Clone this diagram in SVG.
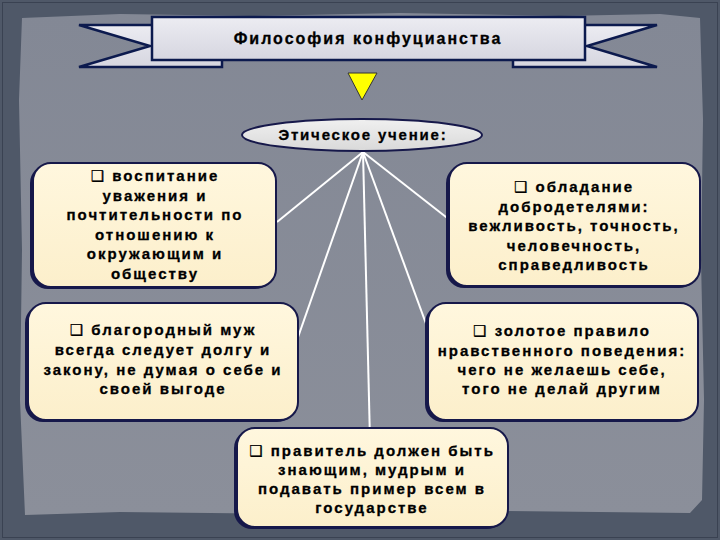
<svg xmlns="http://www.w3.org/2000/svg" width="720" height="540" viewBox="0 0 720 540">
<defs>
<linearGradient id="bg" x1="0" y1="0" x2="0" y2="1">
<stop offset="0" stop-color="#838895"/>
<stop offset="1" stop-color="#8b8f9a"/>
</linearGradient>
<linearGradient id="box" x1="0" y1="0" x2="0" y2="1">
<stop offset="0" stop-color="#fff7de"/>
<stop offset="1" stop-color="#fcefcb"/>
</linearGradient>
<linearGradient id="rib" x1="0" y1="0" x2="0" y2="1">
<stop offset="0" stop-color="#ececf2"/>
<stop offset="1" stop-color="#d6d6e0"/>
</linearGradient>
<linearGradient id="ell" x1="0" y1="0" x2="0" y2="1">
<stop offset="0" stop-color="#f0f0f0"/>
<stop offset="1" stop-color="#d9d9d9"/>
</linearGradient>
<style>
.box{fill:url(#box);stroke:#16184a;stroke-width:2}
.sh{fill:#16184a}
.rib{fill:url(#rib);stroke:#0c1a4e;stroke-width:2.5;stroke-linejoin:miter}
.t{font-family:"Liberation Sans","DejaVu Sans",Arial,sans-serif;font-weight:bold;font-size:15px;letter-spacing:2px;fill:#000;text-anchor:middle;stroke:#000;stroke-width:0.3}
.ttl{font-size:16px;letter-spacing:2px}
.ell{letter-spacing:1.8px}
.conn line{stroke:#ffffff;stroke-width:2}
</style>
</defs>

<g id="background">
<rect x="0" y="0" width="720" height="540" fill="#4f5868"/>
<rect x="2.5" y="2.5" width="715" height="535" fill="none" stroke="#3a4252" stroke-width="1"/>
<path d="M22,18 L120,14 L250,16 L400,13 L560,16 L660,14 L700,18 L703,120 L701,260 L704,400 L702,500 L690,513 L500,511 L300,514 L120,512 L25,515 L20,400 L22,250 L19,100 Z" fill="url(#bg)"/>
</g>

<g id="title">
<polygon class="rib" points="79,25 222,25 222,67 79,67 150,46"/>
<polygon class="rib" points="513,25 657,25 587,46 657,67 513,67"/>
<rect class="rib" x="152" y="17" width="433" height="43"/>
<text class="t ttl" x="368" y="44">Философия конфуцианства</text>
</g>

<g id="arrow">
<polygon points="348,73 377,73 362,100" fill="#ffff00" stroke="#333333" stroke-width="1"/>
</g>

<g class="conn" id="connectors">
<line x1="363" y1="152" x2="277" y2="222"/>
<line x1="363" y1="152" x2="290" y2="360"/>
<line x1="363" y1="152" x2="370" y2="440"/>
<line x1="363" y1="152" x2="432" y2="340"/>
<line x1="363" y1="152" x2="460" y2="228"/>
</g>

<g id="ethics">
<ellipse cx="362" cy="135" rx="120" ry="16" fill="url(#ell)" stroke="#16184a" stroke-width="2"/>
<text class="t ell" x="363" y="140">Этическое учение:</text>
</g>

<g id="n1">
<rect class="sh" x="30" y="165" width="243" height="124" rx="18"/>
<rect class="box" x="33" y="163" width="243" height="124" rx="18"/>
<text class="t" x="155" y="181">❑  воспитание</text>
<text class="t" x="155" y="200.5">уважения и</text>
<text class="t" x="155" y="220">почтительности по</text>
<text class="t" x="155" y="239.5">отношению к</text>
<text class="t" x="155" y="259">окружающим и</text>
<text class="t" x="155" y="278.5">обществу</text>
</g>

<g id="n2">
<rect class="sh" x="446" y="165" width="251" height="123" rx="18"/>
<rect class="box" x="449" y="163" width="251" height="123" rx="18"/>
<text class="t" x="574" y="192">❑  обладание</text>
<text class="t" x="574" y="211.5">добродетелями:</text>
<text class="t" x="574" y="231">вежливость, точность,</text>
<text class="t" x="574" y="250.5">человечность,</text>
<text class="t" x="574" y="270">справедливость</text>
</g>

<g id="n3">
<rect class="sh" x="25" y="305" width="270" height="117" rx="18"/>
<rect class="box" x="28" y="303" width="270" height="117" rx="18"/>
<text class="t" x="163" y="335">❑  благородный муж</text>
<text class="t" x="163" y="355">всегда следует долгу и</text>
<text class="t" x="163" y="375">закону, не думая о себе и</text>
<text class="t" x="163" y="394">своей выгоде</text>
</g>

<g id="n4">
<rect class="sh" x="425" y="305" width="270" height="117" rx="18"/>
<rect class="box" x="428" y="303" width="270" height="117" rx="18"/>
<text class="t" x="562" y="336">❑  золотое правило</text>
<text class="t" x="562" y="356">нравственного поведения:</text>
<text class="t" x="562" y="375">чего не желаешь себе,</text>
<text class="t" x="562" y="394">того не делай другим</text>
</g>

<g id="n5">
<rect class="sh" x="234" y="430" width="271" height="99" rx="18"/>
<rect class="box" x="237" y="428" width="271" height="99" rx="18"/>
<text class="t" x="372" y="456">❑  правитель должен быть</text>
<text class="t" x="372" y="475">знающим, мудрым и</text>
<text class="t" x="372" y="494">подавать пример всем в</text>
<text class="t" x="372" y="513">государстве</text>
</g>
</svg>
